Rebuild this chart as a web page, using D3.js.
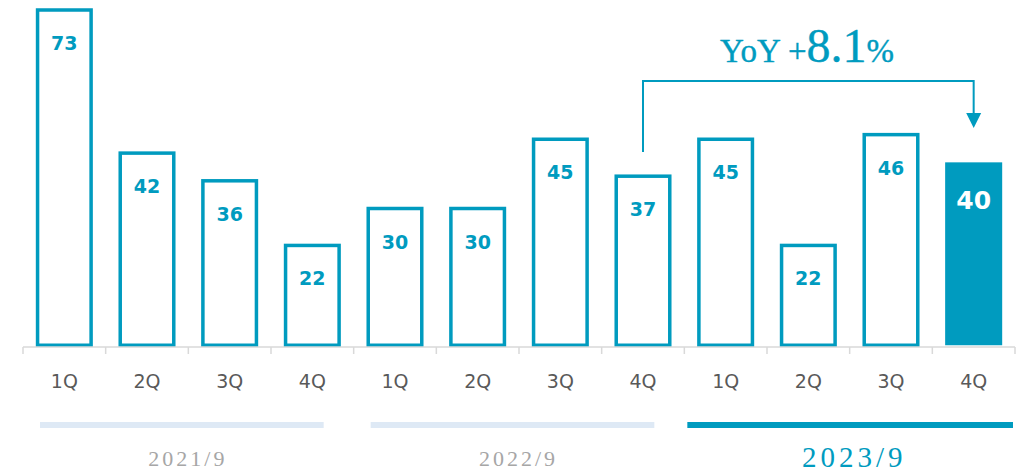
<!DOCTYPE html>
<html>
<head>
<meta charset="utf-8">
<script src="https://cdn.jsdelivr.net/npm/d3@7"></script>
<style>
  html, body { margin: 0; padding: 0; background: #fff; }
</style>
</head>
<body>
<svg id="chart"></svg>
<script>
const quarters = ['1Q', '2Q', '3Q', '4Q', '1Q', '2Q', '3Q', '4Q', '1Q', '2Q', '3Q', '4Q'];
const values = [73, 42, 36, 22, 30, 30, 45, 37, 45, 22, 46, 40];
const years = ['2021/9', '2022/9', '2023/9'];
const yoyLabel = ['YoY +', '8.1', '%'];

const W = 1025, H = 473;
const blue = '#009bbf';
const baseline = 347;

const svg = d3.select('#chart').attr('width', W).attr('height', H);

const keys = values.map((d, i) => i);
const x = d3.scaleBand().domain(keys).range([23, 1015]).paddingInner(0.31).paddingOuter(0.155);
const y = d3.scaleLinear().domain([0, 73]).range([baseline, 10]);
const step = x.step();
const edge = i => x(i) - step * x.paddingInner() / 2;
const cx = i => x(i) + x.bandwidth() / 2;
const last = values.length - 1;

// Bars
const sw = 3.5;
svg.selectAll('.bar')
    .data(values)
    .enter()
    .append('rect')
    .attr('x', (d, i) => i === last ? x(i) : x(i) + sw / 2)
    .attr('y', d => y(d) + (0))
    .attr('width', (d, i) => i === last ? x.bandwidth() : x.bandwidth() - sw)
    .attr('height', d => baseline - y(d) - sw / 2)
    .attr('fill', (d, i) => i === last ? blue : '#fff')
    .attr('stroke', (d, i) => i === last ? 'none' : blue)
    .attr('stroke-width', sw);

// Value labels
svg.selectAll('.val')
    .data(values)
    .enter()
    .append('text')
    .attr('x', (d, i) => cx(i))
    .attr('y', (d, i) => y(d) + (i === last ? 47 : 40))
    .attr('text-anchor', 'middle')
    .attr('font-family', 'DejaVu Sans, Verdana, sans-serif')
    .attr('font-weight', 'bold')
    .attr('font-size', (d, i) => i === last ? '25px' : '19px')
    .attr('fill', (d, i) => i === last ? '#fff' : blue)
    .text(d => d);

// Axis line and tick marks
svg.append('line')
    .attr('x1', edge(0)).attr('x2', edge(last) + step)
    .attr('y1', baseline).attr('y2', baseline)
    .attr('stroke', '#d9d9d9').attr('stroke-width', 1.5);
svg.selectAll('.tick')
    .data(d3.range(values.length + 1))
    .enter()
    .append('line')
    .attr('x1', i => i === values.length ? edge(last) + step : edge(i))
    .attr('x2', i => i === values.length ? edge(last) + step : edge(i))
    .attr('y1', baseline).attr('y2', baseline + 7)
    .attr('stroke', '#d9d9d9').attr('stroke-width', 1.5);

// Quarter labels
svg.selectAll('.q')
    .data(quarters)
    .enter()
    .append('text')
    .attr('x', (d, i) => cx(i))
    .attr('y', 388)
    .attr('text-anchor', 'middle')
    .attr('font-family', 'DejaVu Sans, Verdana, sans-serif')
    .attr('font-size', '19px')
    .attr('fill', '#595959')
    .text(d => d);

// Year groups
years.forEach((yr, g) => {
    const current = g === years.length - 1;
    const x0 = edge(g * 4) + (current ? 3 : 17);
    const x1 = edge(g * 4 + 3) + step - (current ? 2 : 30);
    svg.append('rect')
        .attr('x', x0).attr('y', 422)
        .attr('width', x1 - x0).attr('height', 6)
        .attr('fill', current ? blue : '#dee9f5');
    svg.append('text')
        .attr('x', (x0 + x1) / 2 + (current ? 4 : 6))
        .attr('y', current ? 467 : 466)
        .attr('text-anchor', 'middle')
        .attr('font-family', 'Liberation Serif, Times New Roman, serif')
        .attr('font-size', current ? '29px' : '22px')
        .attr('letter-spacing', current ? '4px' : '3px')
        .attr('fill', current ? blue : '#a6a6a6')
        .text(yr);
});

// YoY bracket
const from = cx(7), to = cx(last);
svg.append('path')
    .attr('d', `M${from},152 V81 H${to} V116`)
    .attr('fill', 'none')
    .attr('stroke', blue)
    .attr('stroke-width', 2);
svg.append('path')
    .attr('d', `M${to - 7.5},113 L${to + 7.5},113 L${to},128 Z`)
    .attr('fill', blue);

const yoy = svg.append('text')
    .attr('x', 720).attr('y', 62)
    .attr('font-family', 'Liberation Serif, Times New Roman, serif')
    .attr('fill', blue)
    .attr('stroke', blue)
    .attr('stroke-width', 0.4);
yoy.append('tspan').attr('font-size', '33px').text(yoyLabel[0]);
yoy.append('tspan').attr('font-size', '48px').text(yoyLabel[1]);
yoy.append('tspan').attr('font-size', '33px').text(yoyLabel[2]);
</script>
</body>
</html>
